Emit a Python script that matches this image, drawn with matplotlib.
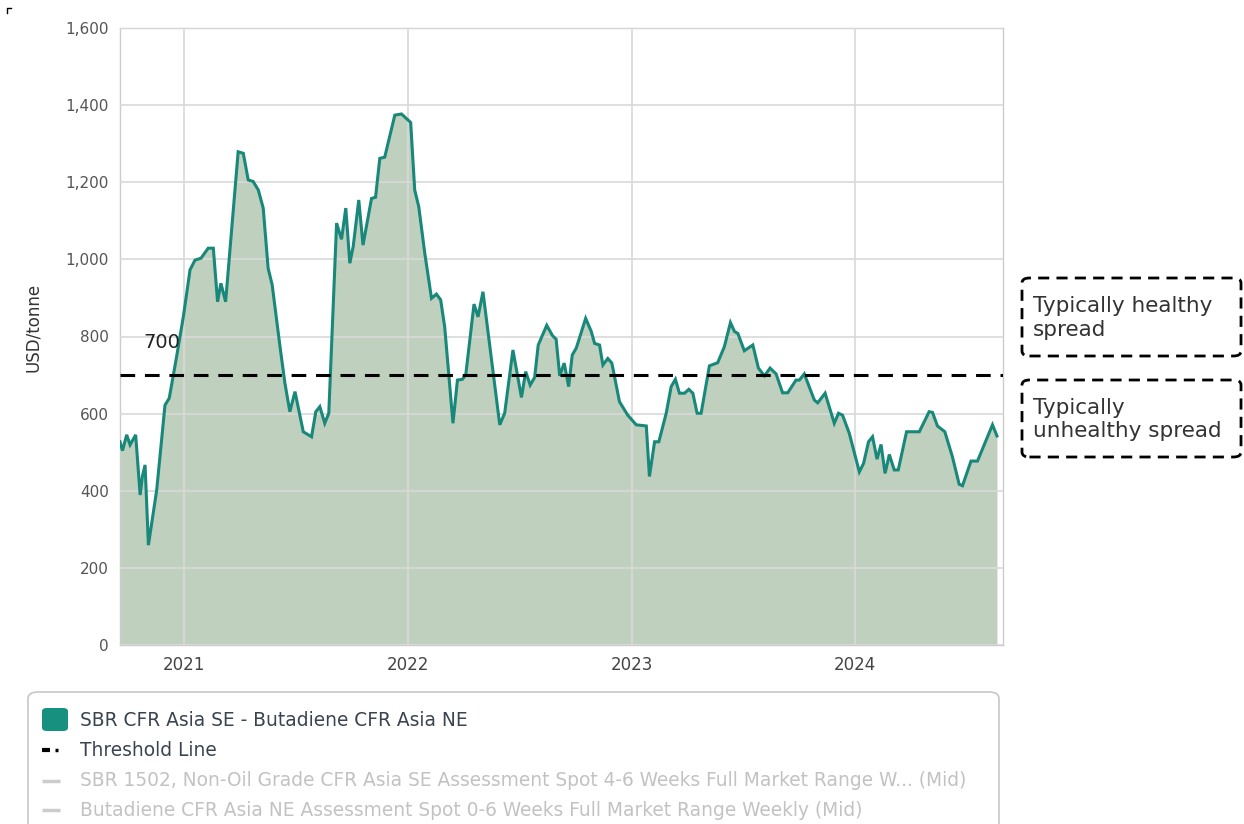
import matplotlib
matplotlib.use("Agg")
import matplotlib.pyplot as plt
from matplotlib.patches import FancyBboxPatch
from matplotlib.lines import Line2D
from matplotlib.ticker import FuncFormatter

# ---------------------------------------------------------------- data
# x positions as decimal years, spread in USD/tonne
years = [
    2020.714, 2020.725, 2020.744, 2020.759, 2020.784, 2020.804, 2020.814, 2020.826, 2020.841, 2020.878,
    2020.915, 2020.934, 2020.967, 2020.997, 2021.027, 2021.049, 2021.076, 2021.108, 2021.131, 2021.150,
    2021.165, 2021.186, 2021.242, 2021.265, 2021.287, 2021.309, 2021.332, 2021.354, 2021.376, 2021.394,
    2021.429, 2021.451, 2021.473, 2021.496, 2021.533, 2021.570, 2021.589, 2021.607, 2021.629, 2021.647,
    2021.682, 2021.704, 2021.723, 2021.741, 2021.756, 2021.781, 2021.800, 2021.838, 2021.856, 2021.875,
    2021.897, 2021.942, 2021.972, 2022.013, 2022.031, 2022.049, 2022.076, 2022.106, 2022.128, 2022.147,
    2022.165, 2022.202, 2022.222, 2022.244, 2022.259, 2022.296, 2022.314, 2022.336, 2022.411, 2022.433,
    2022.470, 2022.508, 2022.527, 2022.547, 2022.567, 2022.583, 2022.621, 2022.647, 2022.663, 2022.679,
    2022.699, 2022.719, 2022.735, 2022.753, 2022.795, 2022.820, 2022.835, 2022.857, 2022.872, 2022.894,
    2022.912, 2022.946, 2022.983, 2023.021, 2023.066, 2023.080, 2023.103, 2023.122, 2023.155, 2023.177,
    2023.196, 2023.214, 2023.237, 2023.256, 2023.274, 2023.293, 2023.311, 2023.348, 2023.385, 2023.415,
    2023.442, 2023.460, 2023.475, 2023.504, 2023.542, 2023.567, 2023.594, 2023.619, 2023.646, 2023.675,
    2023.698, 2023.735, 2023.750, 2023.772, 2023.817, 2023.832, 2023.865, 2023.906, 2023.925, 2023.943,
    2023.973, 2024.018, 2024.037, 2024.059, 2024.077, 2024.097, 2024.115, 2024.133, 2024.152, 2024.174,
    2024.192, 2024.229, 2024.286, 2024.330, 2024.345, 2024.367, 2024.400, 2024.434, 2024.464, 2024.479,
    2024.517, 2024.546, 2024.613, 2024.633,
]
spread = [
    527, 504, 545, 519, 545, 389, 437, 467, 259, 402,
    622, 640, 748, 851, 973, 998, 1003, 1029, 1029, 890,
    938, 890, 1279, 1275, 1206, 1202, 1180, 1133, 977, 934,
    774, 679, 605, 657, 553, 540, 605, 618, 575, 601,
    1094, 1052, 1133, 990, 1033, 1154, 1037, 1158, 1161, 1262,
    1265, 1374, 1377, 1355, 1180, 1137, 1016, 899, 910, 895,
    825, 575, 687, 689, 700, 884, 851, 916, 571, 601,
    765, 642, 709, 674, 694, 778, 829, 802, 793, 698,
    731, 670, 752, 770, 847, 813, 782, 778, 726, 743,
    731, 631, 596, 571, 568, 437, 527, 527, 601, 670,
    689, 653, 653, 663, 653, 601, 601, 724, 732, 774,
    836, 813, 808, 763, 778, 718, 698, 718, 703, 654,
    654, 687, 687, 703, 635, 628, 653, 575, 601, 596,
    549, 449, 471, 527, 540, 482, 520, 445, 494, 454,
    454, 553, 553, 605, 603, 568, 553, 488, 417, 413,
    477, 477, 571, 542,
]
threshold = 700
year_ticks = [2021, 2022, 2023, 2024]
y_ticks = [0, 200, 400, 600, 800, 1000, 1200, 1400, 1600]

series_name = "SBR CFR Asia SE - Butadiene CFR Asia NE"
threshold_name = "Threshold Line"
hidden_names = [
    "SBR 1502, Non-Oil Grade CFR Asia SE Assessment Spot 4-6 Weeks Full Market Range W... (Mid)",
    "Butadiene CFR Asia NE Assessment Spot 0-6 Weeks Full Market Range Weekly (Mid)",
]
box_texts = ["Typically healthy\nspread", "Typically\nunhealthy spread"]

# ---------------------------------------------------------------- styling
W, H = 1244, 824
LINE = "#17887a"
FILL = "#bfd0bf"
GRID = "#d9d9d9"
NARROW = ["Liberation Sans Narrow", "DejaVu Sans"]


def fx(px):
    return px / W


def fy(py):
    return 1 - py / H


fig = plt.figure(figsize=(W / 100, H / 100), dpi=100)
ax = fig.add_axes([fx(120), fy(645), fx(1003) - fx(120), fy(28) - fy(645)])

ax.fill_between(years, spread, 0, color=FILL, lw=0, zorder=1)
ax.plot(years, spread, color=LINE, lw=2.2, zorder=3, solid_joinstyle="miter")
ax.axhline(threshold, color="black", lw=2.2, ls=(0, (4.8, 3.2)), zorder=4)
ax.text(2020.82, threshold + 60, str(threshold), fontsize=14, color="#222222",
        ha="left", va="bottom", zorder=5)

ax.set_xlim(2020.714, 2024.66)
ax.set_ylim(0, 1600)
ax.set_xticks(year_ticks)
ax.set_xticklabels([str(y) for y in year_ticks], family=NARROW, fontsize=12, color="#444444")
ax.set_yticks(y_ticks)
ax.yaxis.set_major_formatter(FuncFormatter(lambda v, p: f"{int(v):,}"))
for lab in ax.get_yticklabels():
    lab.set_fontsize(11)
    lab.set_color("#555555")
ax.tick_params(axis="both", length=0, pad=8)
ax.grid(True, color=GRID, lw=1.2, zorder=2)
ax.set_axisbelow(False)
for s in ax.spines.values():
    s.set_color("#cccccc")
    s.set_linewidth(1)
ax.set_ylabel("USD/tonne", family=NARROW, fontsize=12, color="#333333")
ax.yaxis.set_label_coords(-0.088, 0.515)

# dashed annotation boxes to the right of the plot
for (top, bot), txt in zip([(276, 358), (378, 459)], box_texts):
    box = FancyBboxPatch((fx(1022), fy(bot - 2)), fx(1241) - fx(1022), fy(top + 2) - fy(bot - 2),
                         boxstyle="round,pad=0,rounding_size=0.006",
                         transform=fig.transFigure, fill=False, ec="black", lw=2,
                         ls=(0, (4, 2.6)))
    fig.add_artist(box)
    fig.text(fx(1033), fy((top + bot) / 2 + 1), txt, fontsize=15.5, color="#333333",
             ha="left", va="center", linespacing=1.2)

# legend panel
leg = FancyBboxPatch((fx(28), fy(830)), fx(999) - fx(28), fy(692) - fy(830),
                     boxstyle="round,pad=0,rounding_size=0.008",
                     transform=fig.transFigure, fill=True, fc="white", ec="#c7c7c7", lw=1.2)
fig.add_artist(leg)
sq = FancyBboxPatch((fx(42), fy(731)), fx(68) - fx(42), fy(708) - fy(731),
                    boxstyle="round,pad=0,rounding_size=0.004",
                    transform=fig.transFigure, fc="#17917f", ec="none")
fig.add_artist(sq)
fig.text(fx(80), fy(720), series_name, family=NARROW, fontsize=13.4, color="#3b4350", va="center")
fig.add_artist(Line2D([fx(42), fx(50)], [fy(750), fy(750)], transform=fig.transFigure,
                      color="black", lw=3, solid_capstyle="butt"))
fig.add_artist(Line2D([fx(55), fx(57.5)], [fy(750), fy(750)], transform=fig.transFigure,
                      color="black", lw=2.5, solid_capstyle="butt"))
fig.text(fx(80), fy(750), threshold_name, family=NARROW, fontsize=13.4, color="#3b4350", va="center")
for py, name in zip([781, 810], hidden_names):
    fig.add_artist(Line2D([fx(42), fx(60)], [fy(py), fy(py)], transform=fig.transFigure,
                          color="#cccccc", lw=2.5, solid_capstyle="butt"))
    fig.text(fx(80), fy(py), name, family=NARROW, fontsize=13.4, color="#c2c2c2", va="center")

# little corner mark top-left
fig.add_artist(Line2D([fx(7), fx(7), fx(11)], [fy(13), fy(8), fy(8)], transform=fig.transFigure,
                      color="black", lw=1))

fig.savefig("out.png", dpi=100)
